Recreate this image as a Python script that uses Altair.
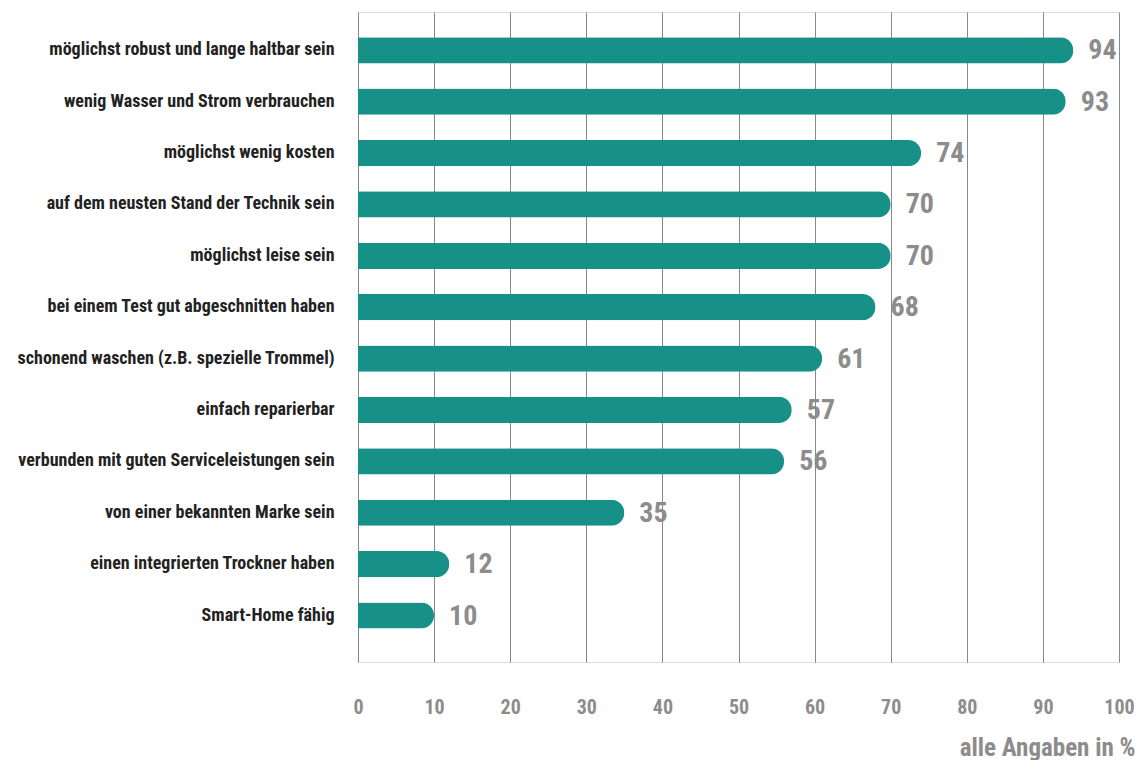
import altair as alt
import pandas as pd

categories = [
    "möglichst robust und lange haltbar sein",
    "wenig Wasser und Strom verbrauchen",
    "möglichst wenig kosten",
    "auf dem neusten Stand der Technik sein",
    "möglichst leise sein",
    "bei einem Test gut abgeschnitten haben",
    "schonend waschen (z.B. spezielle Trommel)",
    "einfach reparierbar",
    "verbunden mit guten Serviceleistungen sein",
    "von einer bekannten Marke sein",
    "einen integrierten Trockner haben",
    "Smart-Home fähig",
]
values = [94, 93, 74, 70, 70, 68, 61, 57, 56, 35, 12, 10]
x_ticks = [0, 10, 20, 30, 40, 50, 60, 70, 80, 90, 100]

df = pd.DataFrame({"cat": categories, "val": values})

FONT = "Roboto Condensed, DejaVu Sans Condensed, sans-serif"
TEAL = "#179187"
GRAY = "#8c8c8c"

y_enc = alt.Y(
    "cat:N",
    sort=categories,
    scale=alt.Scale(paddingInner=0.49, paddingOuter=0.57, align=0.43),
    axis=alt.Axis(
        title=None, domain=False, ticks=False, labelPadding=24,
        labelFont=FONT, labelFontSize=18, labelFontWeight="bold",
        labelColor="#222222", labelLimit=500,
    ),
)
x_enc = alt.X(
    "val:Q",
    scale=alt.Scale(domain=[0, 100], nice=False),
    axis=alt.Axis(
        values=x_ticks, title="alle Angaben in %", domain=False, ticks=False,
        grid=True, gridColor="#888888", gridWidth=1, gridOpacity=1,
        labelFont=FONT, labelFontSize=20, labelFontWeight="bold", labelColor=GRAY,
        labelPadding=35, labelFlush=False, labelOverlap=False,
        titleFont=FONT, titleFontSize=25, titleFontWeight="bold", titleColor=GRAY,
        titleAnchor="end", titleAlign="right", titleBaseline="alphabetic",
        titleX=777, titleY=93,
    ),
)

bars = alt.Chart(df).mark_bar(color=TEAL, cornerRadiusEnd=13).encode(x=x_enc, y=y_enc)
labels = alt.Chart(df).mark_text(
    align="left", baseline="middle", dx=15, dy=1,
    font=FONT, fontSize=28, fontWeight="bold", color=GRAY,
).encode(x="val:Q", y=alt.Y("cat:N", sort=categories), text="val:Q")

chart = (bars + labels).properties(
    width=761, height=650,
    autosize=alt.AutoSizeParams(type="none"),
    padding={"left": 350, "top": 4, "right": 18, "bottom": 98},
).configure_view(stroke=None).configure(background="white")

chart.save("out.html", embed_options={"renderer": "svg", "actions": False})
